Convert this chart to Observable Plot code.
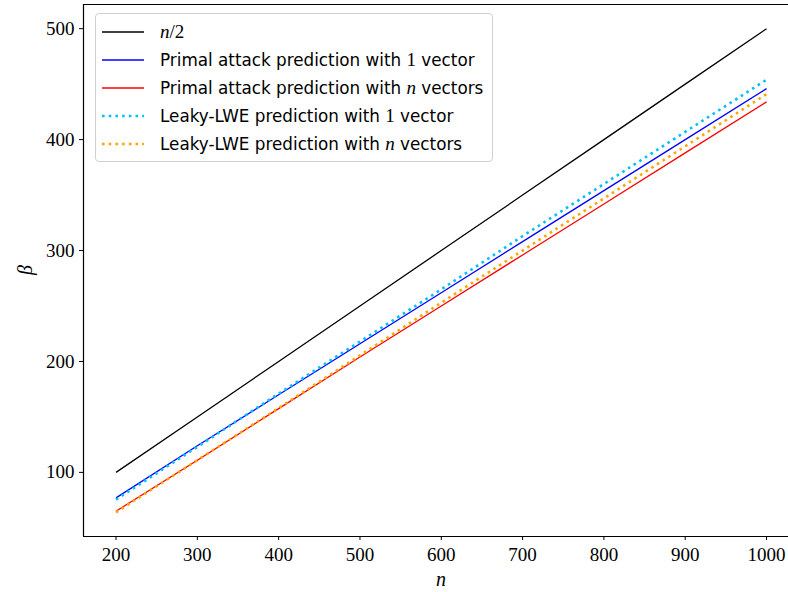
<!DOCTYPE html>
<html>
<head>
<meta charset="utf-8">
<script src="https://cdn.jsdelivr.net/npm/d3@7"></script>
<script src="https://cdn.jsdelivr.net/npm/@observablehq/plot@0.6"></script>
<style>
  html, body { margin: 0; padding: 0; background: #fff; }
  #wrap { position: relative; width: 788px; height: 592px; overflow: hidden; }
  #legend {
    position: absolute; left: 95px; top: 13px; width: 398px; height: 149px;
    border: 1px solid #d0d0d0; border-radius: 4px; background: rgba(255,255,255,0.8);
    box-sizing: border-box; font-family: "DejaVu Sans", sans-serif; font-size: 16.8px; color: #000;
  }
  .row { position: absolute; left: 0; height: 28px; display: flex; align-items: center; }
  .row svg { margin-left: 6px; margin-right: 16px; }
  .m { font-family: "Liberation Serif", serif; font-style: italic; font-size: 19px; }
</style>
</head>
<body>
<div id="wrap"><div id="chart"></div><div id="legend"></div></div>
<script>
const nValues = [200, 300, 400, 500, 600, 700, 800, 900, 1000];
const halfN = [100, 150, 200, 250, 300, 350, 400, 450, 500];
const primalOne = [77, 124, 170, 216, 262, 308, 354, 400, 446];
const primalN = [65, 111, 157.5, 204, 250, 296, 342, 388, 434];
const leakyOne = [75.5, 123, 171, 218, 265, 313, 360, 407, 454];
const leakyN = [64, 111, 158, 205.5, 253, 300, 347, 394, 441];
const xTicks = [200, 300, 400, 500, 600, 700, 800, 900, 1000];
const yTicks = [100, 200, 300, 400, 500];

const seriesNames = ["n/2", "Primal attack prediction with 1 vector", "Primal attack prediction with n vectors",
  "Leaky-LWE prediction with 1 vector", "Leaky-LWE prediction with n vectors"];
const seriesValues = [halfN, primalOne, primalN, leakyOne, leakyN];
const seriesColors = ["#000000", "#0000ff", "#ff0000", "#00bfff", "#ffa500"];
const seriesDotted = [false, false, false, true, true];

const rows = [];
seriesValues.forEach((vals, s) => vals.forEach((v, i) => rows.push({series: s, n: nValues[i], beta: v})));

const xDomain = [160, 1027];
const yDomain = [42.2, 521.8];

const marks = [
  Plot.ruleX([xDomain[0]], {stroke: "#000", strokeWidth: 1.2}),
  Plot.ruleY([yDomain[0]], {stroke: "#000", strokeWidth: 1.2}),
  Plot.ruleY([yDomain[1]], {stroke: "#000", strokeWidth: 1.2}),
  Plot.axisX(xTicks, {tickSize: 4, tickPadding: 7, fontSize: 19, tickFormat: d => String(d), label: null}),
  Plot.axisY(yTicks, {tickSize: 4, tickPadding: 5, fontSize: 19, tickFormat: d => String(d), label: null}),
];
seriesValues.forEach((_, s) => {
  marks.push(Plot.line(rows.filter(d => d.series === s), {
    x: "n", y: "beta", stroke: seriesColors[s],
    strokeWidth: seriesDotted[s] ? 2.6 : 1.3,
    strokeDasharray: seriesDotted[s] ? "2.6,4.1" : null,
    strokeLinecap: "butt"
  }));
});

const chart = Plot.plot({
  width: 788, height: 592,
  marginLeft: 83, marginRight: 0, marginTop: 4, marginBottom: 56,
  x: {domain: xDomain},
  y: {domain: yDomain},
  style: {fontFamily: "Liberation Serif, serif", fontSize: "19px", color: "#000", background: "#fff"},
  marks
});
document.getElementById("chart").appendChild(chart);

// axis titles as real text inside the svg
const svg = d3.select(chart);
svg.append("text").attr("x", 441).attr("y", 586).attr("text-anchor", "middle")
  .attr("font-family", "Liberation Serif, serif").attr("font-style", "italic").attr("font-size", 20).text("n");
svg.append("text").attr("transform", "translate(32,270) rotate(-90)").attr("text-anchor", "middle")
  .attr("font-family", "Liberation Serif, serif").attr("font-style", "italic").attr("font-size", 20).text("β");

// legend
const legend = document.getElementById("legend");
seriesNames.forEach((name, s) => {
  const row = document.createElement("div");
  row.className = "row";
  row.style.top = (4 + s * 28) + "px";
  const dash = seriesDotted[s] ? 'stroke-dasharray="2.6,4.1" stroke-width="2.6"' : 'stroke-width="1.3"';
  row.innerHTML = `<svg width="42" height="10"><line x1="0" x2="42" y1="5" y2="5" stroke="${seriesColors[s]}" ${dash}/></svg>`;
  const span = document.createElement("span");
  if (s === 0) {
    span.innerHTML = '<span class="m">n</span><span class="m" style="font-style:normal">/2</span>';
  } else {
    span.innerHTML = name.replace(" with n ", ' with <span class="m">n</span> ')
      .replace(" with 1 ", ' with <span class="m" style="font-style:normal">1</span> ');
  }
  row.appendChild(span);
  legend.appendChild(row);
});
</script>
</body>
</html>
